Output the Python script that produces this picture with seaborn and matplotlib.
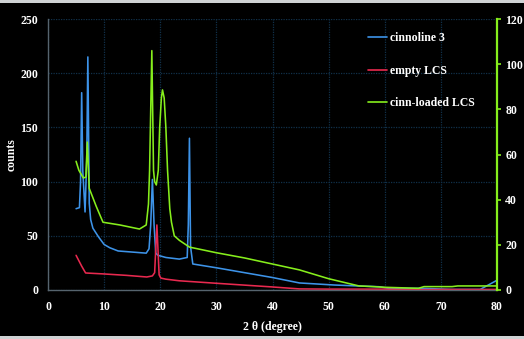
import matplotlib
matplotlib.use("Agg")
import matplotlib.pyplot as plt
from matplotlib.patches import Rectangle
from matplotlib.lines import Line2D
import seaborn as sns
import pandas as pd

# XRD patterns: 2-theta (degree) vs counts
blue_x = [5.0, 5.6, 5.8, 6.0, 6.2, 6.6, 6.9, 7.1, 7.35, 7.6, 8.0, 9.0, 10.0, 11.0, 12.5,
          15.0, 17.5, 18.0, 18.3, 18.6, 18.9, 19.2, 19.6, 21.0, 23.4, 24.8, 25.0, 25.2,
          25.4, 25.8, 30.0, 35.0, 40.0, 44.8, 51.0, 55.4, 59.0, 60.7, 67.0, 72.0, 77.0, 80.0]
blue_y = [75, 76, 100, 182, 110, 72, 120, 215, 80, 65, 57, 49, 42, 39, 36,
          35, 34, 38, 60, 102, 60, 34, 32, 30, 28.5, 30, 60, 140,
          40, 24, 20.5, 16, 11.5, 6.5, 4.6, 3.7, 3.0, 1.5, 1.5, 0.5, 0.5, 9]

red_x = [5.0, 6.0, 6.7, 10.0, 14.0, 17.6, 18.6, 19.0, 19.4, 19.8, 20.1, 21.0, 23.4,
         30.0, 35.0, 40.0, 44.8, 50.0, 60.0, 66.0, 70.0, 80.0]
red_y = [32, 22, 15.7, 14.8, 13.5, 12, 13, 16, 60, 14, 11, 10, 8.5,
         6.2, 4.5, 2.8, 1.0, 0.8, 0.8, 0.3, 0.5, 0.5]

green_x = [5.0, 5.5, 6.3, 6.75, 7.0, 7.35, 8.6, 9.8, 12.8, 16.3, 17.5, 17.9, 18.1,
           18.5, 18.8, 19.0, 19.3, 19.65, 19.9, 20.2, 20.4, 20.7, 21.0, 21.3, 21.7,
           22.0, 22.5, 23.4, 25.2, 30.0, 35.0, 40.0, 44.8, 50.0, 55.4, 58.0, 60.0,
           66.0, 67.0, 72.0, 73.0, 80.0]
green_y = [57, 53, 49.6, 50, 65.5, 45, 37, 30, 28.8, 27, 28.8, 38, 53,
           106, 53, 48, 46.5, 53, 72, 85, 88.6, 85, 72, 53, 36,
           30, 24, 22, 19, 16.5, 14.2, 11.5, 8.9, 5.0, 1.8, 1.5, 1.2,
           0.75, 1.5, 1.5, 1.8, 1.8]

labels = ["cinnoline 3", "empty LCS", "cinn-loaded LCS"]
colors = ["#3d93e8", "#e8294f", "#86ee1c"]

x_ticks = [0, 10, 20, 30, 40, 50, 60, 70, 80]
left_ticks = [0, 50, 100, 150, 200, 250]
right_ticks = [0, 20, 40, 60, 80, 100, 120]

blue_df = pd.DataFrame({"theta": blue_x, "counts": blue_y})
red_df = pd.DataFrame({"theta": red_x, "counts": red_y})
green_df = pd.DataFrame({"theta": green_x, "counts": green_y})

sns.set_theme(style="dark")
serif = ["Liberation Serif", "DejaVu Serif"]
plt.rcParams["font.family"] = serif
plt.rcParams["font.weight"] = "bold"

fs = 8.5

fig = plt.figure(figsize=(5.24, 3.39), dpi=100, facecolor="#cfd2d4")
fig.patches.append(Rectangle((0, 3 / 339), 1, 333 / 339, transform=fig.transFigure,
                             facecolor="black", edgecolor="none", zorder=-10))

ax = fig.add_axes([48 / 524, 49 / 339, 449 / 524, 271 / 339])
ax.set_facecolor("black")
ax2 = ax.twinx()

lw = 1.15
sns.lineplot(data=blue_df, x="theta", y="counts", ax=ax, color=colors[0], lw=lw,
             sort=False, estimator=None)
sns.lineplot(data=red_df, x="theta", y="counts", ax=ax, color=colors[1], lw=lw,
             sort=False, estimator=None)
sns.lineplot(data=green_df, x="theta", y="counts", ax=ax2, color=colors[2], lw=lw,
             sort=False, estimator=None)

ax.set_xlim(0, 80)
ax.set_ylim(0, 250)
ax2.set_ylim(0, 120)
ax.set_xticks(x_ticks)
ax.set_yticks(left_ticks)
ax2.set_yticks(right_ticks)

grid_kw = dict(color="#10304a", lw=0.9, ls=(0, (1, 1)))
ax.grid(True, axis="both", **grid_kw)
ax2.grid(False)

ax.tick_params(axis="x", length=0, pad=8, labelcolor="white", labelsize=fs)
ax.tick_params(axis="y", length=0, pad=7, labelcolor="white", labelsize=fs)
ax2.tick_params(axis="y", length=3, width=1.2, color=colors[2], direction="out",
                pad=3, labelcolor="white", labelsize=fs)
for lbl in ax.get_xticklabels() + ax.get_yticklabels() + ax2.get_yticklabels():
    lbl.set_fontweight("bold")

for s in ["top", "right"]:
    ax.spines[s].set_visible(False)
for s in ["left", "bottom"]:
    ax.spines[s].set_color("#56646e")
    ax.spines[s].set_linewidth(1.0)
for s in ["top", "left", "bottom"]:
    ax2.spines[s].set_visible(False)
ax2.spines["right"].set_color(colors[2])
ax2.spines["right"].set_linewidth(1.6)

ax.set_xlabel("2 θ (degree)", color="white", fontsize=fs, fontweight="bold", labelpad=6)
ax.set_ylabel("counts", color="white", fontsize=fs, fontweight="bold")
ax.yaxis.set_label_coords(-0.067, 0.5)
ax2.set_ylabel("")

handles = [Line2D([], [], color=c, lw=1.2) for c in colors]
leg = ax.legend(handles, labels, loc="upper left", bbox_to_anchor=(0.713, 0.952),
                frameon=False, fontsize=fs, labelspacing=1.75, handlelength=1.6,
                handletextpad=0.25, borderpad=0, borderaxespad=0)
for t in leg.get_texts():
    t.set_color("white")
    t.set_fontweight("bold")

fig.savefig("out.png", dpi=100, facecolor=fig.get_facecolor())
